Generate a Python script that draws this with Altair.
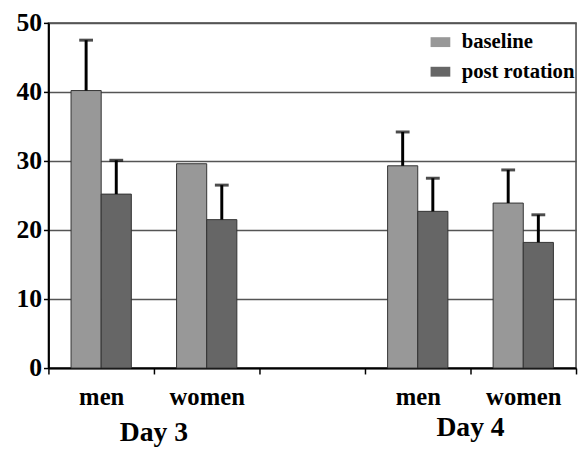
import altair as alt
import pandas as pd

# ---- data ----
groups = ["men_3", "women_3", "_gap", "men_4", "women_4"]
series = ["baseline", "post rotation"]
baseline = [40.2, 29.6, None, 29.3, 23.9]
post = [25.2, 21.5, None, 22.7, 18.2]
baseline_err = [47.5, None, None, 34.2, 28.7]
post_err = [30.1, 26.5, None, 27.5, 22.2]
day_names = ["Day 3", "Day 4"]
day_anchor = ["women_3", "women_4"]
colors = ["#989898", "#666666"]

rows = []
for g, b, p, be, pe in zip(groups, baseline, post, baseline_err, post_err):
    rows.append({"group": g, "series": series[0], "value": b, "err": be})
    rows.append({"group": g, "series": series[1], "value": p, "err": pe})
df = pd.DataFrame(rows)
df_bars = df.dropna(subset=["value"])
df_err = df.dropna(subset=["err"])

FONT = "Liberation Serif"

x_enc = alt.X(
    "group:N",
    scale=alt.Scale(domain=groups, paddingInner=0, paddingOuter=0),
    axis=alt.Axis(
        title=None,
        labelExpr="split(datum.label, '_')[0]",
        tickBand="extent",
        labelAngle=0,
        labelFont=FONT,
        labelFontSize=25,
        labelFontWeight="bold",
        labelColor="black",
        labelPadding=11,
        tickSize=6,
        tickColor="black",
        tickWidth=1.5,
        domainColor="black",
        domainWidth=2,
        grid=False,
    ),
)
xoff = alt.XOffset(
    "series:N",
    scale=alt.Scale(domain=series, paddingInner=0, paddingOuter=0.75),
)
y_scale = alt.Scale(domain=[0, 50], nice=False)

bars = alt.Chart(df_bars).mark_bar(stroke="#333333", strokeWidth=1).encode(
    x=x_enc,
    xOffset=xoff,
    y=alt.Y(
        "value:Q",
        scale=y_scale,
        axis=alt.Axis(
            title=None,
            values=[0, 10, 20, 30, 40, 50],
            labelFont=FONT,
            labelFontSize=26,
            labelFontWeight="bold",
            labelColor="black",
            labelPadding=2,
            tickSize=5,
            tickColor="black",
            tickWidth=1.5,
            domainColor="black",
            domainWidth=2,
            gridColor="#555555",
            gridWidth=1.5,
        ),
    ),
    color=alt.Color(
        "series:N",
        scale=alt.Scale(domain=series, range=colors),
        legend=alt.Legend(
            title=None,
            orient="none",
            legendX=387,
            legendY=9,
            padding=0,
            symbolType="M-1,-0.5L1,-0.5L1,0.5L-1,0.5Z",
            symbolSize=400,
            symbolStrokeWidth=0,
            labelFont=FONT,
            labelFontSize=21,
            labelFontWeight="bold",
            labelColor="black",
            labelOffset=11,
            rowPadding=8,
        ),
    ),
)

rules = alt.Chart(df_err).mark_rule(color="black", strokeWidth=3).encode(
    x=alt.X("group:N", scale=alt.Scale(domain=groups, paddingInner=0, paddingOuter=0)),
    xOffset=xoff,
    y=alt.Y("value:Q", scale=y_scale),
    y2="err:Q",
)
caps = alt.Chart(df_err).mark_tick(color="black", thickness=3, size=14).encode(
    x=alt.X("group:N", scale=alt.Scale(domain=groups, paddingInner=0, paddingOuter=0)),
    xOffset=xoff,
    y=alt.Y("err:Q", scale=y_scale),
)

day_df = pd.DataFrame({"day": day_names, "anchor": day_anchor})
day3 = alt.Chart(day_df.iloc[[0]]).mark_text(
    font=FONT, fontSize=28, fontWeight="bold", color="black", baseline="alphabetic"
).encode(
    x=alt.X("anchor:N", bandPosition=0, scale=alt.Scale(domain=groups, paddingInner=0, paddingOuter=0)),
    y=alt.value(424),
    text="day:N",
)
day4 = alt.Chart(day_df.iloc[[1]]).mark_text(
    font=FONT, fontSize=28, fontWeight="bold", color="black", baseline="alphabetic"
).encode(
    x=alt.X("anchor:N", bandPosition=0, scale=alt.Scale(domain=groups, paddingInner=0, paddingOuter=0)),
    y=alt.value(419),
    text="day:N",
)

chart = (
    alt.layer(bars, rules, caps, day3, day4)
    .properties(
        width=535,
        height=350,
        autosize=alt.AutoSizeParams(type="none"),
        padding={"left": 41, "top": 12, "right": 2, "bottom": 81},
        background="white",
    )
    .configure_view(stroke="#444444", strokeWidth=1.5)
)

chart.save("out.html", embed_options={"renderer": "svg", "actions": False})
